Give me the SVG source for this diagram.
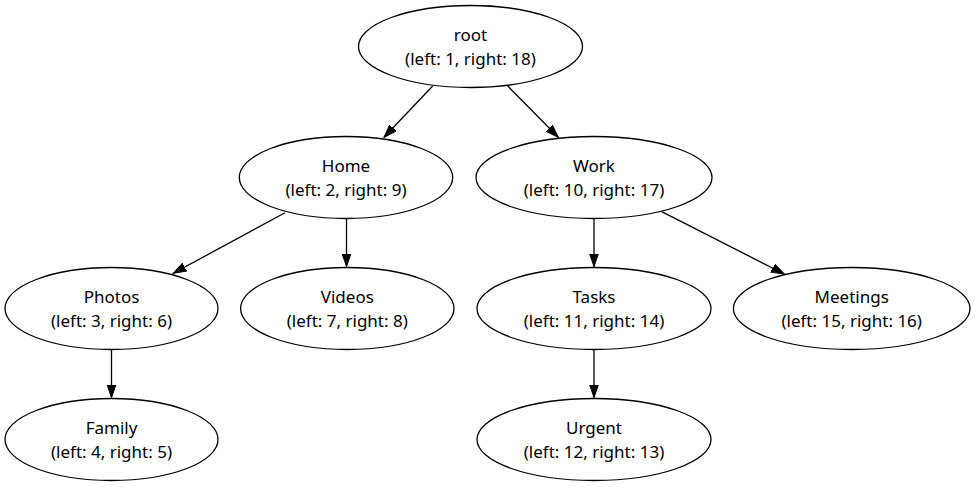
<svg xmlns="http://www.w3.org/2000/svg" width="975" height="487" viewBox="0 0 975 487">
<defs>
<marker id="arr" markerUnits="userSpaceOnUse" markerWidth="14" markerHeight="10" refX="13" refY="5" orient="auto">
<path d="M0,0.5 L13,5 L0,9.5 Z" fill="#000" stroke="#000" stroke-width="1"/>
</marker>
</defs>
<style>
.n ellipse{fill:none;stroke:#000;stroke-width:1.3}
.n text{font-family:"Noto Sans","Open Sans",sans-serif;font-size:17px;text-anchor:middle;fill:#000}
.e line{stroke:#000;stroke-width:1.3;marker-end:url(#arr)}
</style>
<rect width="975" height="487" fill="#fff"/>
<g id="edges" class="e">
<line x1="432.7" y1="86" x2="384" y2="137.3"/>
<line x1="507.7" y1="86" x2="558.3" y2="137.3"/>
<line x1="285" y1="212.7" x2="173.3" y2="273.3"/>
<line x1="346.5" y1="218.5" x2="346.5" y2="266.5"/>
<line x1="661.7" y1="211.7" x2="784.3" y2="274"/>
<line x1="594" y1="218.5" x2="594" y2="266.5"/>
<line x1="111.5" y1="350" x2="111.5" y2="397.5"/>
<line x1="594" y1="350" x2="594" y2="397.5"/>
</g>
<g id="root" class="n"><ellipse cx="470.5" cy="46.5" rx="112" ry="41"/><text x="470.5" y="41">root</text><text x="470.5" y="64.5">(left: 1, right: 18)</text></g>
<g id="home" class="n"><ellipse cx="346" cy="177.5" rx="106.7" ry="41"/><text x="346" y="172">Home</text><text x="346" y="195.5">(left: 2, right: 9)</text></g>
<g id="work" class="n"><ellipse cx="594" cy="177.5" rx="118" ry="41"/><text x="594" y="172">Work</text><text x="594" y="195.5">(left: 10, right: 17)</text></g>
<g id="photos" class="n"><ellipse cx="111.5" cy="308.5" rx="106.5" ry="41"/><text x="111.5" y="303">Photos</text><text x="111.5" y="326.5">(left: 3, right: 6)</text></g>
<g id="videos" class="n"><ellipse cx="347.3" cy="308.5" rx="106.7" ry="41"/><text x="347.3" y="303">Videos</text><text x="347.3" y="326.5">(left: 7, right: 8)</text></g>
<g id="tasks" class="n"><ellipse cx="594" cy="308.5" rx="117" ry="41"/><text x="594" y="303">Tasks</text><text x="594" y="326.5">(left: 11, right: 14)</text></g>
<g id="meetings" class="n"><ellipse cx="851.7" cy="308.5" rx="118.3" ry="41"/><text x="851.7" y="303">Meetings</text><text x="851.7" y="326.5">(left: 15, right: 16)</text></g>
<g id="family" class="n"><ellipse cx="111.5" cy="439.5" rx="106.5" ry="41"/><text x="111.5" y="434">Family</text><text x="111.5" y="457.5">(left: 4, right: 5)</text></g>
<g id="urgent" class="n"><ellipse cx="594" cy="439.5" rx="117" ry="41"/><text x="594" y="434">Urgent</text><text x="594" y="457.5">(left: 12, right: 13)</text></g>
</svg>
